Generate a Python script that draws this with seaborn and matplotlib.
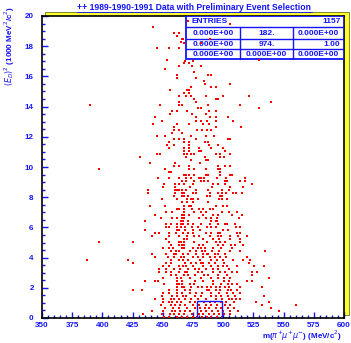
import pandas as pd
import matplotlib
matplotlib.use('Agg')
import matplotlib.pyplot as plt
import seaborn as sns
from matplotlib.patches import Rectangle
from matplotlib.lines import Line2D
from matplotlib.ticker import MultipleLocator

# (E_D)^2 in 1000 MeV^2/c^2, with the m(pi+ mu+ mu-) values (MeV/c^2) read along that row
top_rows = [
    (19.7, [470.9]), (19.5, [505.6]), (19.3, [441.6]),
    (18.9, [459.6, 463.4]), (18.7, [461.5]), (18.5, [465.9, 466.5, 489.1]),
    (18.3, [465.1]), (18.2, [467.8, 481.6]), (17.9, [445.5, 455.4, 463.4]),
    (17.1, [453.2, 529.6]), (17.0, [468.4, 475.0]), (16.9, [467.6, 471.7]),
    (16.7, [463.7, 473.9, 481.6]), (16.5, [451.6]), (16.3, [475.8]),
    (16.1, [461.8, 487.7, 489.9]), (15.9, [461.5, 477.5]), (15.7, [483.8]),
    (15.5, [485.2, 505.6]), (15.3, [473.4, 489.6, 493.8]),
    (15.1, [455.7, 469.8, 471.4]), (14.9, [467.6, 471.4]),
    (14.7, [463.7, 469.5, 473.6, 486.1, 499.6, 521.0]),
    (14.5, [475.6, 493.8, 495.7]), (14.3, [463.7, 477.5, 539.6]),
    (14.1, [389.7, 447.7, 463.7, 465.6, 487.2, 513.9]),
    (13.9, [479.4, 481.6, 529.6]), (13.7, [457.4, 461.5, 469.8, 488.3, 493.8]),
    (13.5, [455.7, 473.9, 485.5]), (13.3, [443.6, 477.5, 489.1, 493.8, 503.7]),
]

mid_rows = [
    (13.04, [449.3, 477.2, 481.4, 486.9, 493.8, 507.9]),
    (12.85, [441.6, 461.5, 472.0, 483.0, 488.3]),
    (12.67, [459.6, 493.8, 514.5]),
    (12.45, [459.6, 463.4, 478.0, 482.2, 486.9, 490.2]),
    (12.25, [457.4, 465.6]),
    (12.05, [445.2, 451.6, 473.1, 485.5, 492.1]),
    (11.87, [459.6, 463.4, 467.6, 477.8, 504.3, 505.9]),
    (11.65, [454.9, 467.6, 472.0, 485.2, 487.7]),
    (11.45, [453.2, 459.6, 471.4, 488.0, 495.7]),
    (11.26, [455.1, 467.6, 472.0, 480.0, 489.6, 499.6]),
    (11.06, [467.6, 472.0, 480.3, 481.9, 501.5]),
    (10.86, [445.5, 447.4, 467.6, 469.8, 473.6, 475.6, 493.8, 497.6, 505.4]),
    (10.66, [431.4, 469.5, 485.2, 497.4, 501.0]),
    (10.46, [473.6, 485.8, 487.4]),
    (10.26, [439.1, 459.8, 481.1]),
    (10.06, [459.6, 463.7, 472.0, 495.7, 501.2, 505.4]),
    (9.87, [397.0, 451.6, 471.7, 475.6, 485.8, 496.0, 497.6]),
    (9.69, [454.9, 456.8, 497.6]),
    (9.49, [467.3, 469.5, 471.4, 475.6, 486.1, 487.7, 497.4, 505.4, 507.3]),
    (9.29, [446.3, 455.4, 463.7, 469.5, 473.6, 479.7, 481.6, 483.8, 495.2, 502.6, 518.1]),
    (9.05, [465.6, 469.5, 475.6, 481.6, 483.8, 487.2, 501.8, 503.4, 513.9, 517.8]),
    (8.87, [451.3, 459.8, 463.7, 467.6, 475.3, 491.6, 495.4, 501.8, 523.8]),
    (8.67, [449.9, 459.8, 472.3, 491.0, 505.9, 516.1]),
    (8.45, [437.5, 459.8, 461.8, 463.7, 465.6, 469.5, 477.2, 487.4, 499.3, 504.5]),
    (8.25, [437.5, 459.8, 465.6, 467.3, 475.3, 477.8, 489.1, 495.7, 499.3, 502.6, 508.1, 510.9, 515.3]),
    (8.05, [459.6, 465.6, 467.8, 470.9, 486.3, 489.1, 497.6, 499.3]),
    (7.86, [449.6, 461.8, 469.8, 473.6, 475.3, 479.4, 496.5, 499.3, 502.9]),
    (7.66, [465.6, 469.8, 475.3, 487.7]),
    (7.44, [439.4, 451.6, 467.6, 472.0, 473.6, 493.8, 499.6, 503.2]),
    (7.24, [462.0, 463.7, 467.6, 473.9, 480.3, 483.6, 489.4, 491.3]),
    (7.04, [452.9, 457.4, 467.6, 475.6, 481.9, 485.8, 498.7, 505.1, 511.4]),
    (6.84, [443.3, 465.6, 467.3, 471.7, 483.3, 491.3, 495.4, 507.3, 515.9]),
    (6.64, [448.5, 457.6, 461.8, 465.6, 467.3, 479.7, 485.5, 489.6, 495.2, 513.1]),
]

low_rows = [
    (6.42, [435.0, 464.8, 467.0, 470.9, 489.9, 494.1, 495.2]),
    (6.23, [452.7, 457.1, 461.5, 465.4, 466.7, 471.2, 474.7, 481.4, 489.1, 496.0, 501.8, 503.4, 510.1]),
    (6.03, [452.7, 455.1, 461.5, 464.8, 468.7, 474.5, 479.2, 486.3, 489.9, 494.1, 510.6, 513.7]),
    (5.83, [435.0, 461.5, 463.1, 468.7, 475.0, 480.8, 500.1, 503.7]),
    (5.63, [443.6, 446.6, 454.9, 461.2, 466.7, 471.2, 475.3, 485.5, 489.6, 495.7, 497.6, 511.2, 513.9]),
    (5.43, [441.3, 454.9, 463.7, 470.3, 475.6, 479.7, 489.4, 496.0, 498.5, 505.9, 512.6, 520.0]),
    (5.23, [452.7, 467.3, 470.3, 483.0, 491.3, 496.5, 505.7, 513.9]),
    (5.03, [397.0, 425.1, 455.4, 463.1, 465.4, 467.6, 475.6, 486.3, 494.1, 497.6, 501.8, 513.9]),
    (4.83, [457.1, 463.4, 465.6, 467.6, 479.7, 483.0, 496.0, 500.1, 506.2, 509.8, 516.4]),
    (4.64, [449.9, 454.9, 458.7, 465.6, 467.6, 475.3, 478.9, 481.4, 485.2, 491.3, 497.9, 507.6]),
    (4.44, [457.1, 461.0, 463.7, 472.5, 477.8, 482.5, 485.2, 491.0, 496.3, 505.7, 514.2, 535.0]),
    (4.24, [441.3, 452.7, 459.0, 461.2, 466.5, 470.6, 477.2, 483.3, 486.3, 487.7, 493.5, 495.4, 501.5]),
    (4.04, [443.3, 454.6, 459.3, 464.8, 467.8, 475.0, 479.2, 483.0, 489.4, 493.5, 497.6, 502.1, 519.5]),
    (3.84, [387.0, 421.0, 457.1, 463.7, 466.5, 470.9, 480.5, 490.2, 494.6, 499.9, 508.4, 516.1, 522.0]),
    (3.64, [425.1, 452.7, 456.8, 468.1, 473.1, 477.2, 481.6, 483.3, 488.0, 493.2, 500.7, 521.4]),
    (3.44, [450.4, 455.1, 463.1, 466.5, 469.0, 475.3, 483.6, 490.2, 495.4, 500.1, 503.4, 511.2, 525.5, 533.8]),
    (3.24, [446.6, 452.7, 459.3, 464.3, 470.9, 477.0, 480.0, 485.5, 491.3, 496.0, 504.5]),
    (3.05, [446.6, 452.4, 457.1, 463.1, 468.4, 469.8, 479.4, 482.5, 491.9, 497.4, 501.2, 507.0, 511.2, 524.0, 528.0]),
    (2.85, [456.5, 461.0, 467.6, 470.9, 476.7, 484.1, 487.7, 495.7, 502.9, 524.0]),
    (2.65, [450.4, 461.8, 465.4, 472.5, 481.6, 489.9, 495.7, 500.7, 505.7, 538.0]),
    (2.45, [435.0, 443.8, 446.0, 461.5, 465.9, 476.7, 483.6, 491.9, 501.0, 505.1, 519.5, 524.0]),
    (2.25, [451.0, 461.5, 463.1, 465.6, 472.5, 475.6, 491.9, 497.9, 504.3, 507.6, 511.2]),
    (2.05, [461.5, 465.6, 467.6, 473.4, 479.4, 482.5, 486.6, 489.9, 494.1, 497.6, 501.5, 505.1, 513.9, 532.0]),
    (1.85, [425.1, 433.1, 455.4, 462.0, 468.4, 472.5, 486.3, 488.3, 493.8, 497.6, 504.3, 506.8, 511.2]),
    (1.65, [450.4, 455.4, 461.5, 465.9, 472.8, 477.5, 482.2, 489.6, 496.3, 502.9, 508.4, 514.2]),
    (1.46, [449.3, 457.6, 461.8, 466.5, 469.2, 477.0, 481.9, 489.6, 493.8, 497.9, 504.3, 509.5, 533.8]),
    (1.26, [443.3, 449.9, 456.5, 459.3, 463.1, 468.1, 473.1, 479.2, 485.8, 494.1, 498.7, 504.5, 507.3, 510.6, 513.7]),
    (1.06, [450.4, 455.4, 457.6, 461.5, 464.8, 472.8, 477.0, 484.1, 489.1, 493.0, 498.2, 502.3, 509.2, 527.0, 538.0]),
    (0.86, [448.2, 456.5, 460.4, 464.3, 468.1, 474.7, 480.3, 485.8, 489.6, 495.2, 501.5, 505.7, 532.0, 560.0]),
    (0.66, [451.6, 458.2, 463.7, 470.3, 476.4, 481.1, 484.7, 488.5, 494.1, 497.9, 504.0, 509.0, 539.6]),
    (0.46, [441.3, 450.4, 457.6, 460.4, 464.3, 468.1, 472.5, 481.6, 485.8, 490.7, 495.4, 500.1, 505.7, 512.6, 546.0]),
    (0.26, [433.9, 449.3, 456.0, 459.6, 463.7, 467.8, 474.2, 479.7, 483.6, 488.0, 492.4, 496.3, 500.7, 505.7]),
    (0.06, [451.0, 455.4, 461.5, 465.6, 470.3, 474.7, 478.1, 482.2, 486.9, 490.2, 494.6, 499.0]),
]

# signal box (MeV/c^2, 1000 MeV^2/c^2)
box_mass = [478.0, 499.2]
box_e2 = [0.0, 1.15]

title = '++ 1989-1990-1991 Data with Preliminary Event Selection'
stats_rows = [
    ['0.000E+00', '182.', '0.000E+00'],
    ['0.000E+00', '974.', '1.00'],
    ['0.000E+00', '0.000E+00', '0.000E+00'],
]
n_entries = '1157'
x_ticks = list(range(350, 601, 25))
y_ticks = list(range(0, 21, 2))

rows = top_rows + mid_rows + low_rows
df = pd.DataFrame([(m, e) for e, ms in rows for m in ms], columns=['mass', 'e2'])

sns.set_style('white')
plt.rcParams['font.family'] = ['Liberation Sans', 'DejaVu Sans']
blue = '#1414ff'

fig = plt.figure(figsize=(3.51, 3.43), dpi=100)
# yellow frame shadow behind the plot box
fig.add_artist(Rectangle((45 / 351, 28 / 343), 304 / 351, 303 / 343, transform=fig.transFigure,
                         facecolor='#ffff33', edgecolor='#555500', lw=0.5, zorder=-1))
ax = fig.add_axes([42 / 351, 25 / 343, 302 / 351, 302 / 343])
ax.set_facecolor('white')

sns.scatterplot(data=df, x='mass', y='e2', ax=ax, color='red', marker='s', s=0.7,
                linewidth=0, zorder=5, legend=False)

ax.set_xlim(350, 600)
ax.set_ylim(0, 20)
ax.set_xlabel('')
ax.set_ylabel('')
ax.set_xticks(x_ticks)
ax.set_yticks(y_ticks)
ax.xaxis.set_minor_locator(MultipleLocator(5))
ax.yaxis.set_minor_locator(MultipleLocator(0.5))
ax.tick_params(which='both', direction='in', color=blue, labelcolor=blue, bottom=True, left=True)
ax.tick_params(which='major', length=4, width=1)
ax.tick_params(which='minor', length=2, width=1)
ax.tick_params(axis='y', pad=6)
ax.tick_params(axis='x', pad=3)
for lab in ax.get_xticklabels() + ax.get_yticklabels():
    lab.set_fontsize(5.8)
    lab.set_fontweight('bold')
for sp in ax.spines.values():
    sp.set_color('black')
    sp.set_linewidth(1.2)

# signal box
ax.add_patch(Rectangle((box_mass[0], box_e2[0]), box_mass[1] - box_mass[0], box_e2[1] - box_e2[0],
                       fill=False, edgecolor=blue, lw=1, zorder=6))

# statistics table in the upper right corner
cols = [0.477, 0.656, 0.831, 1.0]
lines_y = [1.0, 0.9626, 0.9238, 0.8897, 0.8586]
tkw = dict(transform=ax.transAxes, color=blue, fontsize=6, fontweight='bold', zorder=4, va='center')
ax.add_patch(Rectangle((cols[0], lines_y[-1]), cols[-1] - cols[0], lines_y[0] - lines_y[-1],
                       transform=ax.transAxes, facecolor='white', edgecolor=blue, lw=1.3, zorder=3))
for yy in lines_y[1:-1]:
    ax.add_artist(Line2D([cols[0], cols[-1]], [yy, yy], transform=ax.transAxes, color=blue, lw=1, zorder=4))
for xx in cols[1:-1]:
    ax.add_artist(Line2D([xx, xx], [lines_y[-1], lines_y[1]], transform=ax.transAxes, color=blue, lw=1, zorder=4))
ax.text(0.4957, (lines_y[0] + lines_y[1]) / 2, 'ENTRIES', ha='left', **tkw)
ax.text(0.989, (lines_y[0] + lines_y[1]) / 2, n_entries, ha='right', **tkw)
centers = [(cols[i] + cols[i + 1]) / 2 for i in range(3)]
for r, row in enumerate(stats_rows):
    yc = (lines_y[r + 1] + lines_y[r + 2]) / 2
    for c, val in enumerate(row):
        if val == '1.00':
            ax.text(0.987, yc, val, ha='right', **tkw)
        else:
            ax.text(centers[c], yc, val, ha='center', **tkw)

# title, underlined
fig.text(194 / 351, 1 - 8 / 343, title, ha='center', va='center', color=blue, fontsize=6.2, fontweight='bold')
fig.add_artist(Line2D([77 / 351, 312 / 351], [1 - 11.8 / 343] * 2, transform=fig.transFigure, color=blue, lw=0.6))

fig.text(10 / 351, 1 - 6 / 343, r'$(E_D)^2$ (1000 MeV$^2$/c$^2$)', rotation=90, ha='center', va='top',
         color=blue, fontsize=5.8, fontweight='bold')
fig.text(342 / 351, 1 - 336 / 343, r'm($\pi^{+}\mu^{+}\mu^{-}$) (MeV/c$^{2}$)', ha='right', va='center',
         color=blue, fontsize=5.8, fontweight='bold')

fig.savefig('out.png', dpi=100)
